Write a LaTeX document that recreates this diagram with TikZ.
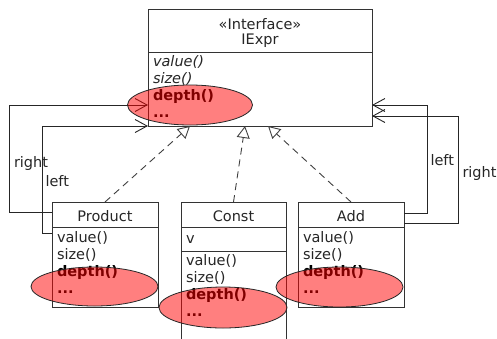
\documentclass[tikz,border=0pt]{standalone}
\usepackage{fontspec}
\setmainfont{DejaVu Sans}
\usetikzlibrary{arrows.meta,shapes.geometric,calc}
\begin{document}
\begin{tikzpicture}[x=1pt,y=-1pt,
  every node/.style={inner sep=0pt, outer sep=0pt},
  classbox/.style={draw=black!80, line width=0.9pt, rectangle, fill=white},
  sepline/.style={draw=black!80, line width=0.9pt},
  txt/.style={font=\fontsize{14.5}{17}\selectfont, text=black!85, anchor=base west},
  ttl/.style={font=\fontsize{14.5}{17}\selectfont, text=black!85, anchor=base},
  abstractop/.style={txt, font=\fontsize{14.5}{17}\selectfont\itshape},
  newop/.style={txt, font=\fontsize{14.5}{17}\selectfont\bfseries, text=black},
  lbl/.style={font=\fontsize{14.5}{17}\selectfont, text=black!85, anchor=base west},
  assoc/.style={draw=black!85, line width=0.9pt, -{Straight Barb[length=12pt,width=13pt]}},
  realize/.style={draw=black!75, line width=0.9pt, dash pattern=on 7pt off 5pt,
                  -{Triangle[open,length=12pt,width=13pt]}},
  hilite/.style={ellipse, draw=black!85, line width=0.8pt, fill=red, fill opacity=0.5},
]
\useasboundingbox (0,0) rectangle (497,338);
\clip (0,0) rectangle (497,338);
\fill[white] (0,0) rectangle (497,338);

% class boxes
\node[classbox, minimum width=224pt, minimum height=117pt] (I) at (260,67.5) {};
\node[classbox, minimum width=106pt, minimum height=105pt] (P) at (105,254.5) {};
\node[classbox, minimum width=105pt, minimum height=148pt] (C) at (233.5,276) {};
\node[classbox, minimum width=106pt, minimum height=105pt] (A) at (351,254.5) {};

% compartment separators
\draw[sepline] ($(I.north west)+(0,43)$) -- ($(I.north east)+(0,43)$);
\draw[sepline] ($(P.north west)+(0,25)$) -- ($(P.north east)+(0,25)$);
\draw[sepline] ($(C.north west)+(0,25)$) -- ($(C.north east)+(0,25)$);
\draw[sepline] ($(C.north west)+(0,49)$) -- ($(C.north east)+(0,49)$);
\draw[sepline] ($(A.north west)+(0,25)$) -- ($(A.north east)+(0,25)$);

% IExpr
\node[ttl] (Ist) at (260,29) {«Interface»};
\node[ttl] (In) at (260,44.5) {IExpr};
\node[abstractop] (Iv) at (153,66) {value()};
\node[abstractop] (Is) at (153,83) {size()};
\node[newop] (Id) at (153,100) {depth()};
\node[newop] (Ie) at (153,117) {...};

% Product
\node[ttl] (Pn) at (105,221) {Product};
\node[txt] (Pv) at (57,242) {value()};
\node[txt] (Ps) at (57,259) {size()};
\node[newop] (Pd) at (57,276) {depth()};
\node[newop] (Pe) at (57,293) {...};

% Const
\node[ttl] (Cn) at (233.5,221) {Const};
\node[txt] (Ca) at (186,243) {v};
\node[txt] (Cv) at (186,265) {value()};
\node[txt] (Cs) at (186,282) {size()};
\node[newop] (Cd) at (186,299) {depth()};
\node[newop] (Ce) at (186,316) {...};

% Add
\node[ttl] (An) at (351,221) {Add};
\node[txt] (Av) at (303,242) {value()};
\node[txt] (As) at (303,259) {size()};
\node[newop] (Ad) at (303,276) {depth()};
\node[newop] (Ae) at (303,293) {...};

% associations
\draw[assoc] ($(P.north west)+(0,10)$) -- ++(-43,0) |- ($(I.north west)+(0,96)$);
\draw[assoc] ($(P.north west)+(0,31)$) -- ++(-10,0) |- (I.south west);
\draw[assoc] ($(A.north east)+(0,11)$) -- ++(23,0) |- ($(I.north east)+(0,96)$);
\draw[assoc] ($(A.north east)+(0,21)$) -- ++(54,0) |- ($(I.north east)+(0,107)$);
\node[lbl] (Lr) at (14,167) {right};
\node[lbl] (Ll) at (45.5,186) {left};
\node[lbl] (Rl) at (430.5,165) {left};
\node[lbl] (Rr) at (462.5,177) {right};

% realizations
\draw[realize] (P.north) -- ($(I.south west)+(42,0)$);
\draw[realize] (C.north) -- ($(I.south west)+(97,0)$);
\draw[realize] (A.north) -- ($(I.south west)+(120,0)$);

% highlights
\node[hilite, minimum width=125pt, minimum height=40pt] (EI) at (190,105) {};
\node[hilite, minimum width=127pt, minimum height=39pt] (EP) at (94.5,286.5) {};
\node[hilite, minimum width=128pt, minimum height=41pt] (EC) at (223,307.5) {};
\node[hilite, minimum width=127pt, minimum height=40pt] (EA) at (339.5,287) {};
\end{tikzpicture}
\end{document}
